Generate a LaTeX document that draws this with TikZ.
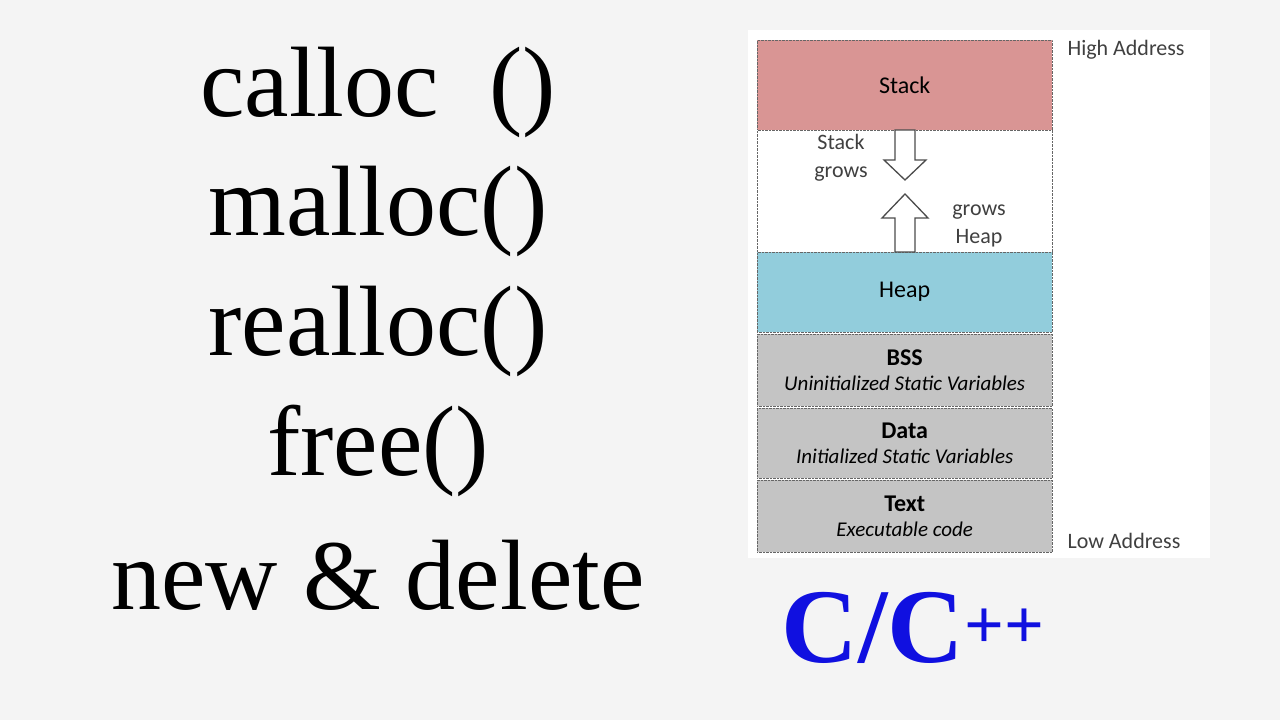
\documentclass[tikz,border=0pt]{standalone}
\usepackage{fontspec}
\setmainfont{Liberation Serif}
\newfontfamily\calfont{Carlito}
\usetikzlibrary{positioning}
\definecolor{bgray}{HTML}{F4F4F4}
\definecolor{stackred}{HTML}{D99594}
\definecolor{heapblue}{HTML}{92CDDC}
\definecolor{segray}{HTML}{C4C4C4}
\definecolor{cblue}{HTML}{1010E0}
\begin{document}
\begin{tikzpicture}[x=1pt,y=-1pt,
    seg/.style={draw=black!60,densely dotted,minimum width=295pt,anchor=north west,inner sep=0pt,font=\calfont\fontsize{24}{27}\selectfont},
    lbl/.style={font=\calfont\fontsize{22}{28}\selectfont,text=black!75,align=center},
    func/.style={font=\fontsize{100}{106}\selectfont}]
  \fill[bgray] (0,0) rectangle (1280,720);
  \useasboundingbox (0,0) rectangle (1280,720);
  % left column
  \node[func] (calloc) at (378,92) {calloc~~()};
  \node[func] (malloc) at (378,211) {malloc()};
  \node[func] (realloc) at (378,331) {realloc()};
  \node[func] (free) at (378,451) {free()};
  \node[func] (newdel) at (378,575) {new \& delete};
  % memory layout
  \fill[white] (748,30) rectangle (1210,558);
  \node[seg,fill=stackred,minimum height=90pt] (stack) at (757,40) {Stack};
  \node[seg,fill=white,minimum height=122pt] (gap) at (757,130) {};
  \node[seg,fill=heapblue,minimum height=80pt] (heap) at (757,252) {Heap};
  \node[seg,fill=segray,minimum height=72pt,align=center] (bss) at (757,334)
    {\textbf{BSS}\\[-2pt]{\fontsize{21}{24}\selectfont\itshape Uninitialized Static Variables}};
  \node[seg,fill=segray,minimum height=70pt,align=center] (data) at (757,408)
    {\textbf{Data}\\[-2pt]{\fontsize{21}{24}\selectfont\itshape Initialized Static Variables}};
  \node[seg,fill=segray,minimum height=72pt,align=center] (text) at (757,480)
    {\textbf{Text}\\[-2pt]{\fontsize{21}{24}\selectfont\itshape Executable code}};
  % growth arrows
  \draw[black!70,fill=white,line width=1.3pt] (895,130) -- (915,130) -- (915,160) -- (926,160) -- (905,180)
    -- (884,160) -- (895,160) -- cycle;
  \draw[black!70,fill=white,line width=1.3pt] (895,252) -- (915,252) -- (915,218) -- (928,218) -- (905,194)
    -- (882,218) -- (895,218) -- cycle;
  \node[lbl] (sgrow) at (841,158) {Stack\\grows};
  \node[lbl] (hgrow) at (979,226) {grows\\Heap};
  \node[lbl,anchor=west] (high) at (1064,50) {High Address};
  \node[lbl,anchor=west] (low) at (1064,541) {Low Address};
  \node[text=cblue,font=\bfseries\fontsize{106}{110}\selectfont,inner sep=0pt] (lang) at (913,628)
    {C/C\raisebox{14pt}{\fontsize{70}{70}\selectfont ++}};
\end{tikzpicture}
\end{document}
